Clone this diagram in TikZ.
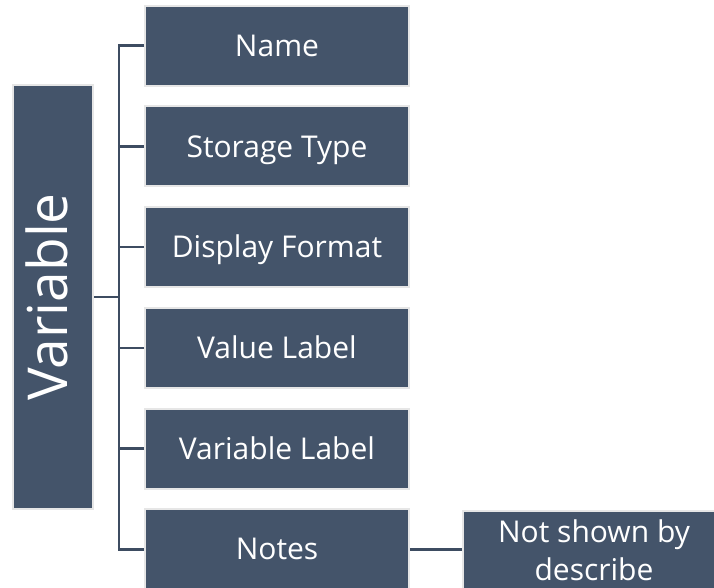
\documentclass[tikz,border=0pt]{standalone}
\usepackage{fontspec}
\setmainfont{Open Sans}
\definecolor{boxfill}{HTML}{44546A}
\definecolor{boxrim}{HTML}{E6E6E6}
\definecolor{linkcol}{HTML}{3D4C61}
\tikzset{
  item/.style={draw=boxrim, line width=2pt, fill=boxfill, text=white,
    minimum width=264pt, minimum height=80pt, inner sep=0pt,
    font=\fontsize{30}{38}\selectfont, text height=21.4pt, text depth=0pt},
  root/.style={draw=boxrim, line width=2pt, fill=boxfill, text=white,
    minimum width=424pt, minimum height=80pt, inner sep=0pt, rotate=90,
    font=\fontsize{55}{66}\selectfont, text height=28pt, text depth=0pt},
  aside/.style={item, minimum width=262pt, align=center,
    font=\fontsize{30}{38}\selectfont, text height=59.4pt},
  link/.style={draw=linkcol, line width=2.6pt}
}
\begin{document}
\begin{tikzpicture}[x=1pt, y=-1pt]
  \clip (0,0) rectangle (714,588);
  \fill[white] (0,0) rectangle (714,588);

  \node[root] (var) at (53,297) {Variable};

  \node[item] (name)  at (277,45.7)  {Name};
  \node[item] (store) at (277,146.4) {Storage Type};
  \node[item] (disp)  at (277,247.1) {Display Format};
  \node[item] (vlab)  at (277,347.8) {Value Label};
  \node[item] (varl)  at (277,448.5) {Variable Label};
  \node[item] (notes) at (277,549.2) {Notes};

  \node[aside] (nsd) at (594,551) {Not shown by\\describe};

  % spine joining the root to its fields
  \coordinate (spine) at (119,297);
  \draw[link] (name.west) -| (spine) |- (notes.west);
  \draw[link] (var.south) -- (spine);
  \draw[link] (store.west) -- (store.west -| spine);
  \draw[link] (disp.west) -- (disp.west -| spine);
  \draw[link] (vlab.west) -- (vlab.west -| spine);
  \draw[link] (varl.west) -- (varl.west -| spine);
  \draw[link] (notes.east) -- (notes.east -| nsd.west);
\end{tikzpicture}
\end{document}
